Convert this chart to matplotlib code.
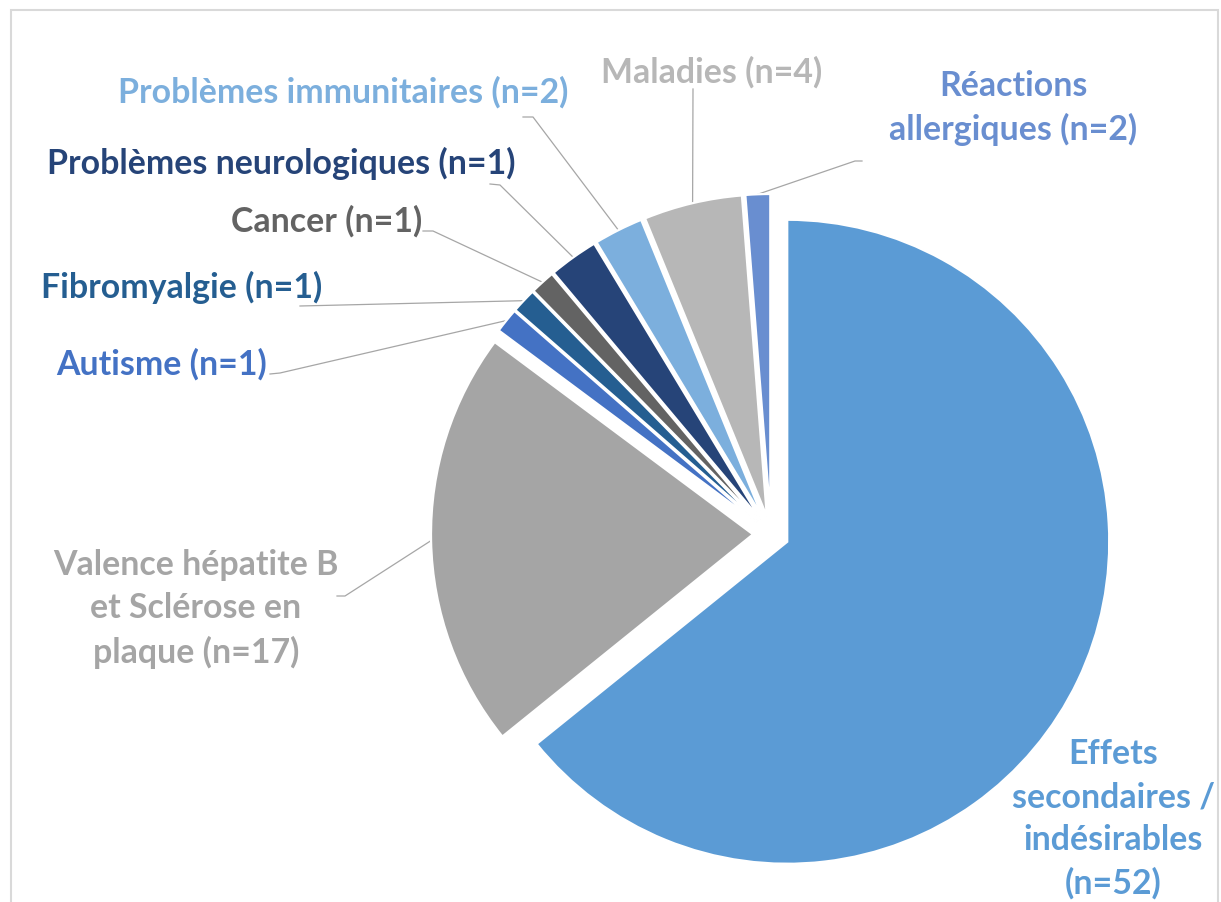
import matplotlib
matplotlib.use("Agg")
import matplotlib.pyplot as plt
import numpy as np
from matplotlib.patches import Rectangle

# ---------------- data ----------------
categories = ["Effets secondaires / indésirables",
              "Valence hépatite B et Sclérose en plaque",
              "Autisme", "Fibromyalgie", "Cancer",
              "Problèmes neurologiques", "Problèmes immunitaires",
              "Maladies", "Réactions allergiques"]
slice_values = [52, 17, 1, 1, 1, 2, 2, 4, 1]        # slice sizes as drawn
label_counts = [52, 17, 1, 1, 1, 1, 2, 4, 2]        # counts printed in labels
label_texts = ["Effets\nsecondaires /\nindésirables\n(n={})",
               "Valence hépatite B\net Sclérose en\nplaque (n={})",
               "Autisme (n={})", "Fibromyalgie (n={})", "Cancer (n={})",
               "Problèmes neurologiques (n={})", "Problèmes immunitaires (n={})",
               "Maladies (n={})", "Réactions\nallergiques (n={})"]
colors = ["#5B9BD5", "#A5A5A5", "#4472C4", "#255E91", "#636363",
          "#264478", "#7CAFDD", "#B7B7B7", "#698ED0"]

# ---------------- layout (pixels, y from top) ----------------
W, H = 1221, 903
CENTER = (771, 535)
RADIUS = 322
EXPLODE = 18
label_pos = [(1113, 819), (196, 609), (162, 364), (182, 287), (327, 221),
             (281, 163), (343, 92), (712, 72), (1013, 108)]
leader_start = [None, [(337, 597), (345, 597)], [(270, 375), (280, 374)],
                [(300, 307)], [(423, 232), (433, 232)],
                [(490, 185), (500, 186)], [(523, 118), (533, 118)],
                [(693, 90)], [(862, 162), (855, 162)]]

FONT = ["Lato", "DejaVu Sans"]

fig = plt.figure(figsize=(W / 100, H / 100), dpi=100)
ax = fig.add_axes([0, 0, 1, 1])

wedges, _ = ax.pie(slice_values, colors=colors, startangle=90, counterclock=False,
                   center=(CENTER[0], H - CENTER[1]), radius=RADIUS,
                   explode=[EXPLODE] * len(slice_values),
                   wedgeprops=dict(edgecolor="white", linewidth=1.6))
ax.set_xlim(0, W)
ax.set_ylim(0, H)
ax.set_aspect("equal")
ax.axis("off")

# font size fitted to the reference label width
t = ax.text(0, 0, "Problèmes neurologiques (n=1)", fontsize=20,
            fontweight="bold", family=FONT)
fig.canvas.draw()
w = t.get_window_extent().width
FS = 20 * 467 / w
t.remove()

for i, wdg in enumerate(wedges):
    x, y = label_pos[i]
    ax.text(x, H - y, label_texts[i].format(label_counts[i]), ha="center",
            va="center", color=colors[i], fontsize=FS, fontweight="bold",
            family=FONT, linespacing=1.42)
    if leader_start[i] is not None:
        thm = np.deg2rad(0.5 * (wdg.theta1 + wdg.theta2))
        cx, cy = wdg.center
        ex, ey = cx + wdg.r * np.cos(thm), cy + wdg.r * np.sin(thm)
        xs = [p[0] for p in leader_start[i]] + [ex]
        ys = [H - p[1] for p in leader_start[i]] + [ey]
        ax.plot(xs, ys, color="#A6A6A6", lw=0.9, zorder=0.5)

ax.add_patch(Rectangle((11, -10), 1207, H - 11 + 10, fill=False,
                       edgecolor="#D9D9D9", lw=1.5, clip_on=False))

fig.savefig("out.png", dpi=100)
